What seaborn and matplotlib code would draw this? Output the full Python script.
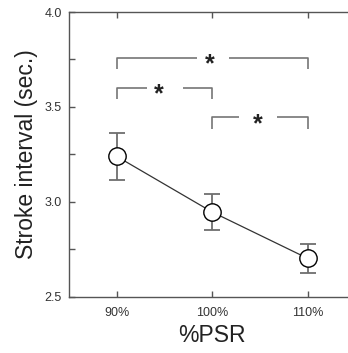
import numpy as np
import pandas as pd
import seaborn as sns
import matplotlib.pyplot as plt
from matplotlib.ticker import MultipleLocator

# values
conditions = ["90%", "100%", "110%"]
means = [3.24, 2.947, 2.703]
errors = [0.125, 0.095, 0.075]

# significance brackets: (left, right, height, gap start, gap end, star x)
br_left = [0, 0, 1]
br_right = [2, 1, 2]
br_height = [3.76, 3.60, 3.446]
br_gap_lo = [0.84, 0.32, 1.28]
br_gap_hi = [1.18, 0.69, 1.68]
br_star_x = [0.98, 0.44, 1.48]
br_drop = 0.06

df = pd.DataFrame({"x": np.arange(len(conditions)), "mean": means, "err": errors})

sns.set_style("ticks")
plt.rcParams["font.family"] = ["Liberation Sans", "DejaVu Sans"]

fig = plt.figure(figsize=(3.48, 3.53), dpi=100)
ax = fig.add_axes([0.198, 0.159, 0.823, 0.807])

ax.errorbar(df["x"], df["mean"], yerr=df["err"], fmt="none",
            ecolor="#6e6e6e", elinewidth=1.3, capsize=5.5, capthick=1.3, zorder=2)
sns.lineplot(data=df, x="x", y="mean", ax=ax, color="#333333", linewidth=0.9,
             marker="o", markersize=12.5, markerfacecolor="white",
             markeredgecolor="black", markeredgewidth=1.0, zorder=3)

gray = "#757575"
for l, r, h, g0, g1, sx in zip(br_left, br_right, br_height, br_gap_lo, br_gap_hi, br_star_x):
    ax.plot([l, l, g0], [h - br_drop, h, h], color=gray, lw=1.2, solid_capstyle="butt")
    ax.plot([g1, r, r], [h, h, h - br_drop], color=gray, lw=1.2, solid_capstyle="butt")
    ax.text(sx, h - 0.035, "*", ha="center", va="center", fontsize=18,
            fontweight="bold", color="#222222")

ax.set_xlim(-0.5, 2.5)
ax.set_ylim(2.5, 4.0)
ax.set_xticks(df["x"])
ax.set_xticklabels(conditions)
ax.yaxis.set_major_locator(MultipleLocator(0.5))
ax.yaxis.set_minor_locator(MultipleLocator(0.25))
ax.yaxis.set_major_formatter(plt.FormatStrFormatter("%.1f"))
ax.tick_params(axis="both", which="both", direction="in", color="#555555",
               labelsize=9, labelcolor="#333333", width=1.0)
ax.tick_params(axis="x", top=True, length=4, pad=7)
ax.tick_params(axis="y", which="major", length=4, pad=5)
ax.tick_params(axis="y", which="minor", length=4)
for s in ["left", "bottom", "top"]:
    ax.spines[s].set_color("#555555")
    ax.spines[s].set_linewidth(1.0)
ax.spines["right"].set_visible(False)

ax.set_xlabel("%PSR", fontsize=16.5, color="#222222", labelpad=4)
ax.set_ylabel("Stroke interval (sec.)", fontsize=16.5, color="#222222", labelpad=5)

fig.savefig("out.png", dpi=100)
